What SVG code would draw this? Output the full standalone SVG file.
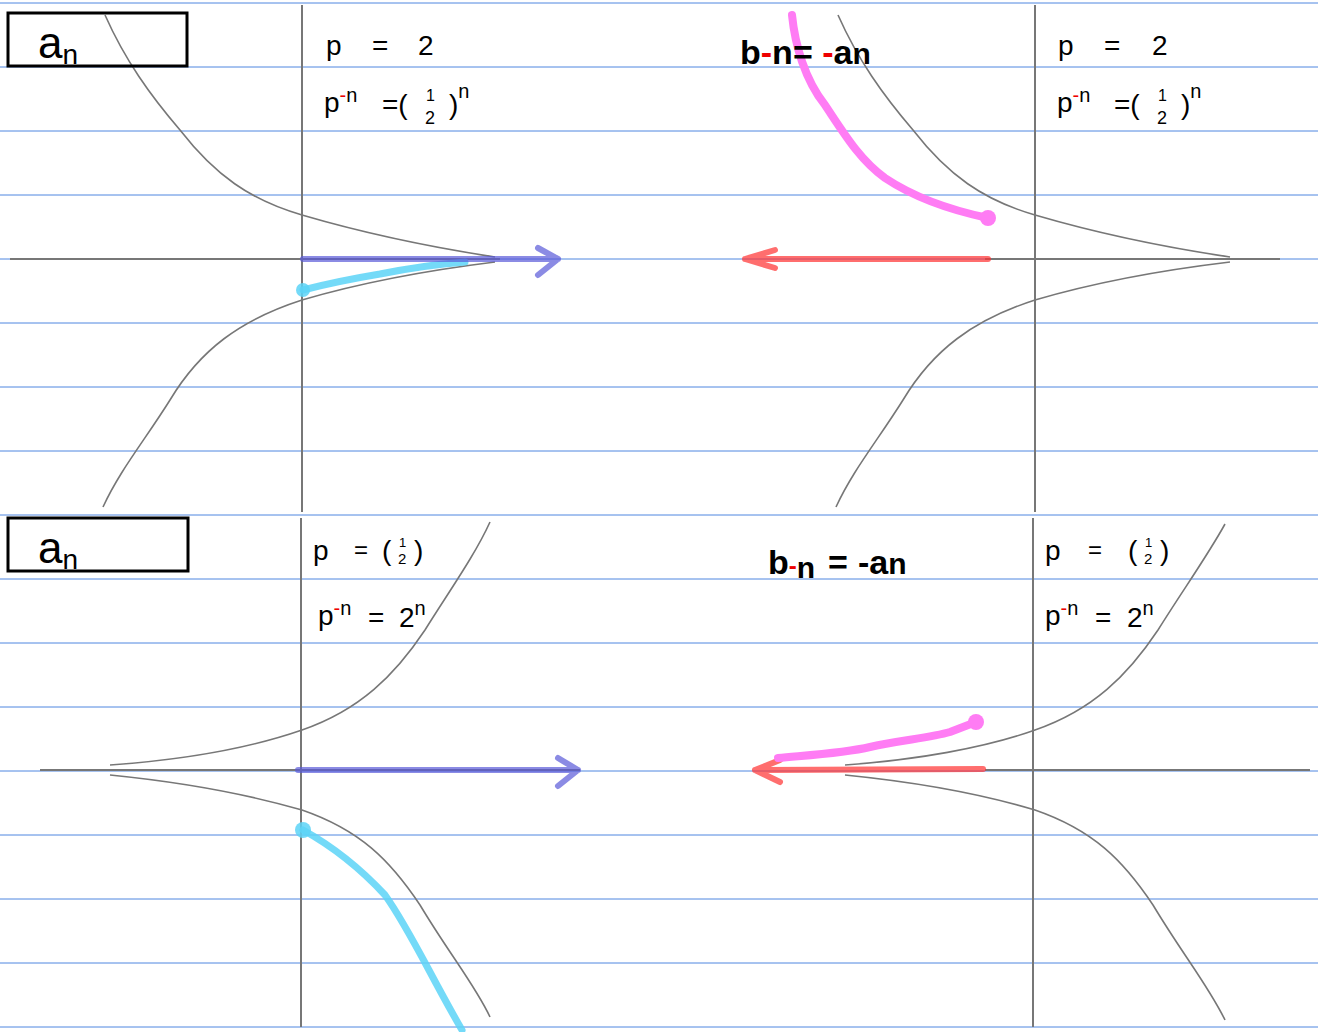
<svg xmlns="http://www.w3.org/2000/svg" width="1318" height="1032" viewBox="0 0 1318 1032">
<style>
.rule{stroke:#4f86e0;stroke-width:1}
.axis{stroke:#777;stroke-width:2;fill:none}
.curve{stroke:#777;stroke-width:1.6;fill:none}
.t{font-family:"Liberation Sans",Arial,sans-serif;fill:#000}
.b{font-weight:bold}
.r{fill:#e00}
.box{fill:none;stroke:#000;stroke-width:3}
.blue{stroke:#5a5ad8;stroke-opacity:0.7;stroke-width:6;fill:none;stroke-linecap:round;stroke-linejoin:round}
.red{stroke:#ff3030;stroke-opacity:0.7;stroke-width:6;fill:none;stroke-linecap:round;stroke-linejoin:round}
.cyan{stroke:#5cd3f7;stroke-opacity:0.85;stroke-width:7;fill:none;stroke-linecap:round;stroke-linejoin:round}
.pink{stroke:#ff7cf4;stroke-width:8;fill:none;stroke-linecap:round;stroke-linejoin:round}
</style>
<rect width="1318" height="1032" fill="#fff"/>
<g id="rules">
<line class="rule" x1="0" y1="3" x2="1318" y2="3"/>
<line class="rule" x1="0" y1="67" x2="1318" y2="67"/>
<line class="rule" x1="0" y1="131" x2="1318" y2="131"/>
<line class="rule" x1="0" y1="195" x2="1318" y2="195"/>
<line class="rule" x1="0" y1="259" x2="1318" y2="259"/>
<line class="rule" x1="0" y1="323" x2="1318" y2="323"/>
<line class="rule" x1="0" y1="387" x2="1318" y2="387"/>
<line class="rule" x1="0" y1="451" x2="1318" y2="451"/>
<line class="rule" x1="0" y1="515" x2="1318" y2="515"/>
<line class="rule" x1="0" y1="579" x2="1318" y2="579"/>
<line class="rule" x1="0" y1="643" x2="1318" y2="643"/>
<line class="rule" x1="0" y1="707" x2="1318" y2="707"/>
<line class="rule" x1="0" y1="771" x2="1318" y2="771"/>
<line class="rule" x1="0" y1="835" x2="1318" y2="835"/>
<line class="rule" x1="0" y1="899" x2="1318" y2="899"/>
<line class="rule" x1="0" y1="963" x2="1318" y2="963"/>
<line class="rule" x1="0" y1="1027" x2="1318" y2="1027"/>
</g>
<g id="axes">
<line class="axis" x1="302" y1="5" x2="302" y2="512"/>
<line class="axis" x1="10" y1="259" x2="500" y2="259"/>
<line class="axis" x1="1035" y1="5" x2="1035" y2="512"/>
<line class="axis" x1="985" y1="259" x2="1280" y2="259"/>
<line class="axis" x1="301" y1="518" x2="301" y2="1027"/>
<line class="axis" x1="40" y1="770" x2="580" y2="770"/>
<line class="axis" x1="1033" y1="518" x2="1033" y2="1027"/>
<line class="axis" x1="985" y1="770" x2="1310" y2="770"/>
</g>
<g id="curves">
<path class="curve" d="M105,15 C125,60 150,95 180,130 C215,175 250,200 302,215 C360,232 430,247 495,257"/>
<path class="curve" d="M495,262 C430,270 360,283 302,300 C240,320 200,350 170,400 C145,440 120,470 103,507"/>
<path class="curve" d="M838,15 C858,60 883,95 913,130 C948,175 983,200 1035,215 C1093,232 1163,247 1230,257"/>
<path class="curve" d="M1230,262 C1163,270 1093,283 1035,300 C973,320 933,350 903,400 C878,440 853,470 836,507"/>
<path class="curve" d="M110,765 C180,760 250,748 302,730 C360,710 395,675 425,630 C450,590 475,555 490,522"/>
<path class="curve" d="M110,775 C180,782 250,795 302,810 C360,830 390,860 420,905 C450,955 475,985 490,1017"/>
<path class="curve" d="M845,765 C915,760 985,748 1035,730 C1093,710 1128,675 1158,630 C1183,590 1208,555 1225,524"/>
<path class="curve" d="M845,775 C915,782 985,795 1035,810 C1093,830 1123,860 1153,905 C1183,955 1208,985 1225,1020"/>
</g>
<g id="connectors">
<path class="cyan" d="M303,290 C330,283 350,279 380,274 C410,268 440,264 465,262"/>
<circle cx="303" cy="290" r="7" fill="#5cd3f7" fill-opacity="0.85"/>
<path class="blue" d="M303,259 L558,259 M538,248 L558,259 L538,275"/>
<path class="pink" d="M792,15 C795,45 805,80 825,105 C845,135 860,160 885,178 C915,198 950,210 988,218"/>
<circle cx="988" cy="218" r="8" fill="#ff7cf4"/>
<path class="red" d="M988,259 L745,259 M775,250 L745,259 L775,268"/>
<path class="blue" d="M298,770 L578,770 M558,758 L578,770 L558,786"/>
<path class="cyan" d="M303,830 C330,845 360,868 385,895 C410,930 430,975 462,1030"/>
<circle cx="303" cy="830" r="8" fill="#5cd3f7" fill-opacity="0.85"/>
<path class="red" d="M983,769 L755,770 M780,760 L755,770 L780,782"/>
<path class="pink" d="M778,758 C810,755 845,753 870,747 C900,740 930,738 950,732 L976,722"/>
<circle cx="976" cy="722" r="8" fill="#ff7cf4"/>
</g>
<g id="label-an-top">
<rect class="box" x="8" y="13" width="179" height="53"/>
<text class="t" x="38" y="58" font-size="44">a<tspan font-size="28" dy="6">n</tspan></text>
</g>
<g id="label-an-bottom">
<rect class="box" x="8" y="518" width="180" height="53"/>
<text class="t" x="38" y="563" font-size="44">a<tspan font-size="28" dy="6">n</tspan></text>
</g>
<g id="eq-top-left">
<text class="t" x="326" y="55" font-size="28">p</text>
<text class="t" x="372" y="55" font-size="28">=</text>
<text class="t" x="418" y="55" font-size="28">2</text>
<text class="t" x="324" y="112" font-size="28">p<tspan class="r" font-size="20" dy="-10">-</tspan><tspan font-size="20">n</tspan></text>
<text class="t" x="382" y="114" font-size="28">=(</text>
<text class="t" x="426" y="101" font-size="16">1</text>
<text class="t" x="425" y="124" font-size="18">2</text>
<text class="t" x="449" y="114" font-size="28">)<tspan font-size="20" dy="-16">n</tspan></text>
</g>
<g id="eq-top-right">
<text class="t b" x="740" y="64" font-size="34">b<tspan class="r">-</tspan>n= <tspan class="r">-</tspan>a<tspan font-size="30">n</tspan></text>
<text class="t" x="1058" y="55" font-size="28">p</text>
<text class="t" x="1104" y="55" font-size="28">=</text>
<text class="t" x="1152" y="55" font-size="28">2</text>
<text class="t" x="1057" y="112" font-size="28">p<tspan class="r" font-size="20" dy="-10">-</tspan><tspan font-size="20">n</tspan></text>
<text class="t" x="1114" y="114" font-size="28">=(</text>
<text class="t" x="1158" y="101" font-size="16">1</text>
<text class="t" x="1157" y="124" font-size="18">2</text>
<text class="t" x="1181" y="114" font-size="28">)<tspan font-size="20" dy="-16">n</tspan></text>
</g>
<g id="eq-bottom-left">
<text class="t" x="313" y="560" font-size="28">p</text>
<text class="t" x="354" y="558" font-size="24">=</text>
<text class="t" x="382" y="560" font-size="28">(</text>
<text class="t" x="399" y="547" font-size="13">1</text>
<text class="t" x="398" y="564" font-size="15">2</text>
<text class="t" x="414" y="560" font-size="28">)</text>
<text class="t" x="318" y="625" font-size="28">p<tspan class="r" font-size="20" dy="-10">-</tspan><tspan font-size="20">n</tspan></text>
<text class="t" x="368" y="627" font-size="28">=</text>
<text class="t" x="399" y="627" font-size="28">2<tspan font-size="20" dy="-12">n</tspan></text>
</g>
<g id="eq-bottom-right">
<text class="t b" x="768" y="574" font-size="34">b<tspan class="r" font-size="24">-</tspan><tspan dy="4" font-size="30">n</tspan></text>
<text class="t b" x="828" y="574" font-size="34">=</text>
<text class="t b" x="858" y="574" font-size="34">-a<tspan font-size="30">n</tspan></text>
<text class="t" x="1045" y="560" font-size="28">p</text>
<text class="t" x="1088" y="558" font-size="24">=</text>
<text class="t" x="1128" y="560" font-size="28">(</text>
<text class="t" x="1145" y="547" font-size="13">1</text>
<text class="t" x="1144" y="564" font-size="15">2</text>
<text class="t" x="1160" y="560" font-size="28">)</text>
<text class="t" x="1045" y="625" font-size="28">p<tspan class="r" font-size="20" dy="-10">-</tspan><tspan font-size="20">n</tspan></text>
<text class="t" x="1095" y="627" font-size="28">=</text>
<text class="t" x="1127" y="627" font-size="28">2<tspan font-size="20" dy="-12">n</tspan></text>
</g>
</svg>
